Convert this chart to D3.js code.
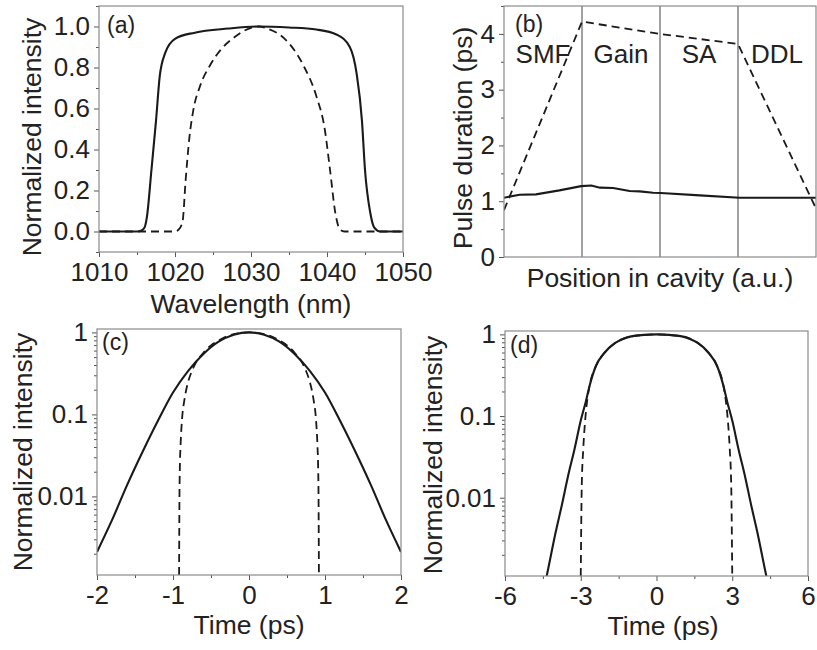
<!DOCTYPE html>
<html>
<head>
<meta charset="utf-8">
<script src="https://cdn.jsdelivr.net/npm/d3@7"></script>
<style>
  html, body { margin: 0; padding: 0; background: #fff; }
  text { font-family: "Liberation Sans", Arial, sans-serif; fill: #222; }
</style>
</head>
<body>
<svg id="chart" width="817" height="650"></svg>
<script>
// ---------- DATA ----------
// (a) spectra
const specSolidWl  = [1010, 1015, 1015.6, 1016.0, 1016.3, 1016.9, 1017.5, 1018.0, 1018.7, 1020.0, 1022.6, 1027, 1031, 1035, 1038.6, 1041.3, 1043.0, 1043.9, 1044.6, 1045.0, 1045.7, 1046.2, 1047, 1050];
const specSolidVal = [0, 0, 0.005, 0.02, 0.07, 0.30, 0.54, 0.76, 0.87, 0.94, 0.97, 0.99, 1.0, 0.995, 0.985, 0.96, 0.90, 0.77, 0.54, 0.30, 0.09, 0.02, 0, 0];
const specDashWl   = [1010, 1020, 1020.5, 1021.0, 1021.4, 1021.9, 1022.4, 1023.3, 1024.6, 1026.1, 1027.9, 1030.1, 1031, 1032.1, 1034.7, 1036.9, 1038.6, 1039.7, 1040.4, 1041.1, 1041.7, 1042.3, 1050];
const specDashVal  = [0, 0, 0.01, 0.05, 0.25, 0.46, 0.59, 0.71, 0.81, 0.89, 0.95, 0.995, 1.0, 0.99, 0.93, 0.81, 0.66, 0.50, 0.30, 0.09, 0.01, 0, 0];
const specXTicks = [1010, 1020, 1030, 1040, 1050];
const specYTicks = [0, 0.2, 0.4, 0.6, 0.8, 1.0];

// (b) pulse duration along cavity
const cavSections = ["SMF", "Gain", "SA", "DDL"];
const cavDashPos  = [0, 1, 2, 3, 4];
const cavDashVal  = [0.84, 4.22, 4.0, 3.82, 0.87];
const cavSolidPos = [0, 0.20, 0.41, 0.71, 0.99, 1.12, 1.23, 1.40, 1.61, 1.74, 1.91, 2.01, 2.51, 3.02, 4];
const cavSolidVal = [1.063, 1.117, 1.123, 1.194, 1.271, 1.283, 1.243, 1.237, 1.182, 1.176, 1.153, 1.147, 1.105, 1.063, 1.063];
const cavYTicks = [0, 1, 2, 3, 4];

// (c) temporal profile, log scale
const cSolidT   = [-2, -1.8, -1.6, -1.4, -1.2, -1.0, -0.8, -0.6, -0.4, -0.2, 0, 0.2, 0.4, 0.6, 0.8, 1.0, 1.2, 1.4, 1.6, 1.8, 2];
const cSolidVal = [0.0021, 0.0052, 0.014, 0.035, 0.083, 0.185, 0.34, 0.545, 0.77, 0.935, 1.0, 0.935, 0.77, 0.545, 0.34, 0.185, 0.083, 0.035, 0.014, 0.0052, 0.0021];
const cDashT    = [-0.92, -0.915, -0.91, -0.9, -0.88, -0.85, -0.8, -0.75, -0.7, -0.6, -0.5, -0.4, -0.3, -0.2, -0.1, 0, 0.1, 0.2, 0.3, 0.4, 0.5, 0.6, 0.7, 0.75, 0.8, 0.85, 0.88, 0.9, 0.91, 0.915, 0.92];
const cDashVal  = [0.0011, 0.01, 0.022, 0.043, 0.09, 0.15, 0.25, 0.34, 0.425, 0.565, 0.695, 0.795, 0.89, 0.95, 0.988, 1.0, 0.988, 0.95, 0.89, 0.795, 0.695, 0.565, 0.425, 0.34, 0.25, 0.15, 0.09, 0.043, 0.022, 0.01, 0.0011];
const cXTicks = [-2, -1, 0, 1, 2];

// (d) temporal profile, log scale
const dSolidT   = [-4.6, -4.35, -4.0, -3.75, -3.5, -3.25, -3.0, -2.8, -2.65, -2.4, -2.05, -1.65, -1.3, -1.0, -0.5, 0, 0.5, 1.0, 1.3, 1.65, 2.05, 2.4, 2.65, 2.8, 3.0, 3.25, 3.5, 3.75, 4.0, 4.35, 4.6];
const dSolidVal = [0.0005, 0.0011, 0.0037, 0.0081, 0.0186, 0.039, 0.088, 0.15, 0.235, 0.41, 0.60, 0.78, 0.885, 0.945, 0.985, 1.0, 0.985, 0.945, 0.885, 0.78, 0.60, 0.41, 0.235, 0.15, 0.088, 0.039, 0.0186, 0.0081, 0.0037, 0.0011, 0.0005];
const dDashT    = [-3.0, -2.96, -2.9, -2.83, -2.75, -2.65, -2.4, -2.05, -1.65, -1.0, 0, 1.0, 1.65, 2.05, 2.4, 2.65, 2.75, 2.83, 2.9, 2.96, 3.0];
const dDashVal  = [0.0011, 0.014, 0.04, 0.085, 0.15, 0.235, 0.41, 0.60, 0.78, 0.945, 1.0, 0.945, 0.78, 0.60, 0.41, 0.235, 0.15, 0.085, 0.04, 0.014, 0.0011];
const dXTicks = [-6, -3, 0, 3, 6];

const logMajor = [0.01, 0.1, 1];
const logDomain = [0.0011, 1.1];

// ---------- DRAWING ----------
const svg = d3.select("#chart");
const frameColor = "#8a8a8a";
const lineColor = "#1a1a1a";
const FS = 26;
const TFS = 26.5;

function zip(xs, ys) { return xs.map((x, i) => [x, ys[i]]); }

let clipId = 0;
function panel(box) {
  const g = svg.append("g");
  const id = "clip" + (clipId++);
  g.append("clipPath").attr("id", id).append("rect")
    .attr("x", box.l).attr("y", box.t).attr("width", box.r - box.l).attr("height", box.b - box.t);
  const plot = g.append("g").attr("clip-path", `url(#${id})`);
  return { g, plot };
}

function styleAxis(sel) {
  sel.select(".domain").remove();
  sel.selectAll(".tick line").attr("stroke", "#555").attr("stroke-width", 1);
  sel.selectAll(".tick text").style("font-size", FS + "px").attr("fill", "#222");
}

function frame(g, box) {
  g.append("rect").attr("x", box.l).attr("y", box.t)
    .attr("width", box.r - box.l).attr("height", box.b - box.t)
    .attr("fill", "none").attr("stroke", frameColor).attr("stroke-width", 1.2);
}

function drawLine(plot, data, x, y, dashed, curve) {
  plot.append("path").datum(data)
    .attr("fill", "none").attr("stroke", lineColor)
    .attr("stroke-width", dashed ? 1.8 : 2.1)
    .attr("stroke-dasharray", dashed ? "8,5" : null)
    .attr("d", d3.line().x(d => x(d[0])).y(d => y(d[1])).curve(curve || d3.curveMonotoneX));
}

function yTitle(g, text, cx, cy) {
  g.append("text").attr("transform", `translate(${cx},${cy}) rotate(-90)`)
    .attr("text-anchor", "middle").attr("dy", "0.35em").style("font-size", TFS + "px").text(text);
}
function xTitle(g, text, cx, baseline) {
  g.append("text").attr("x", cx).attr("y", baseline).attr("text-anchor", "middle")
    .style("font-size", TFS + "px").text(text);
}
function pLabel(g, text, x, baseline) {
  g.append("text").attr("x", x).attr("y", baseline).style("font-size", "23px").text(text);
}

function logMinor() {
  const out = [];
  [0.001, 0.01, 0.1].forEach(d => { for (let k = 2; k <= 9; k++) { const v = k * d; if (v >= logDomain[0] && v <= logDomain[1]) out.push(v); } });
  return out;
}

// ----- (a) -----
{
  const box = { l: 99, r: 403, t: 6, b: 252 };
  const x = d3.scaleLinear().domain([1010, 1050]).range([box.l, box.r]);
  const y = d3.scaleLinear().domain([-0.1, 1.1]).range([box.b, box.t]);
  const { g, plot } = panel(box);
  g.append("g").attr("transform", `translate(0,${box.b})`)
    .call(d3.axisBottom(x).tickValues(d3.range(1015, 1050, 10)).tickSize(3).tickFormat("")).call(styleAxis);
  g.append("g").attr("transform", `translate(0,${box.b})`)
    .call(d3.axisBottom(x).tickValues(specXTicks).tickSize(5).tickPadding(6).tickFormat(d3.format("d"))).call(styleAxis);
  g.append("g").attr("transform", `translate(${box.l},0)`)
    .call(d3.axisLeft(y).tickValues([-0.1, 0.1, 0.3, 0.5, 0.7, 0.9, 1.1]).tickSize(3).tickFormat("")).call(styleAxis);
  g.append("g").attr("transform", `translate(${box.l},0)`)
    .call(d3.axisLeft(y).tickValues(specYTicks).tickSize(5).tickPadding(4).tickFormat(d3.format(".1f"))).call(styleAxis);
  frame(g, box);
  drawLine(plot, zip(specDashWl, specDashVal), x, y, true);
  drawLine(plot, zip(specSolidWl, specSolidVal), x, y, false);
  pLabel(g, "(a)", 107, 33);
  yTitle(g, "Normalized intensity", 32, 137);
  xTitle(g, "Wavelength (nm)", 251, 313);
}

// ----- (b) -----
{
  const box = { l: 504, r: 816, t: 6, b: 257 };
  const x = d3.scaleLinear().domain([0, 4]).range([box.l, box.r]);
  const y = d3.scaleLinear().domain([0, 4.5]).range([box.b, box.t]);
  const { g, plot } = panel(box);
  g.append("g").attr("transform", `translate(${box.l},0)`)
    .call(d3.axisLeft(y).tickValues([0.5, 1.5, 2.5, 3.5, 4.5]).tickSize(3).tickFormat("")).call(styleAxis);
  g.append("g").attr("transform", `translate(${box.l},0)`)
    .call(d3.axisLeft(y).tickValues(cavYTicks).tickSize(5).tickPadding(4).tickFormat(d3.format("d"))).call(styleAxis);
  frame(g, box);
  [1, 2, 3].forEach(p => {
    plot.append("line").attr("x1", x(p)).attr("x2", x(p)).attr("y1", y(0)).attr("y2", y(4.5))
      .attr("stroke", "#555").attr("stroke-width", 1.1);
  });
  cavSections.forEach((s, i) => {
    g.append("text").attr("x", x(i + 0.5)).attr("y", box.t + 57).attr("text-anchor", "middle")
      .style("font-size", FS + "px").text(s);
  });
  drawLine(plot, zip(cavDashPos, cavDashVal), x, y, true, d3.curveLinear);
  drawLine(plot, zip(cavSolidPos, cavSolidVal), x, y, false, d3.curveLinear);
  pLabel(g, "(b)", 515, 32);
  yTitle(g, "Pulse duration (ps)", 463, 138);
  xTitle(g, "Position in cavity (a.u.)", 660, 287);
}

// ----- (c) & (d) -----
function logPanel(box, xDomain, xTicks, xMinor, solidT, solidV, dashT, dashV, label, labelX, labelY, titleX, titleY, xTitleX, xTitleY) {
  const x = d3.scaleLinear().domain(xDomain).range([box.l, box.r]);
  const y = d3.scaleLog().domain(logDomain).range([box.b, box.t]);
  const { g, plot } = panel(box);
  g.append("g").attr("transform", `translate(0,${box.b})`)
    .call(d3.axisBottom(x).tickValues(xMinor).tickSize(3).tickFormat("")).call(styleAxis);
  g.append("g").attr("transform", `translate(0,${box.b})`)
    .call(d3.axisBottom(x).tickValues(xTicks).tickSize(5).tickPadding(6).tickFormat(d => d3.format("d")(d).replace("−", "-"))).call(styleAxis);
  g.append("g").attr("transform", `translate(${box.l},0)`)
    .call(d3.axisLeft(y).tickValues(logMinor()).tickSize(3).tickFormat("")).call(styleAxis);
  g.append("g").attr("transform", `translate(${box.l},0)`)
    .call(d3.axisLeft(y).tickValues(logMajor).tickSize(5).tickPadding(4).tickFormat(d => String(d))).call(styleAxis);
  frame(g, box);
  drawLine(plot, zip(dashT, dashV), x, y, true);
  drawLine(plot, zip(solidT, solidV), x, y, false);
  pLabel(g, label, labelX, labelY);
  yTitle(g, "Normalized intensity", titleX, titleY);
  xTitle(g, "Time (ps)", xTitleX, xTitleY);
}

logPanel({ l: 97, r: 401, t: 329, b: 575 }, [-2, 2], cXTicks, [-1.5, -0.5, 0.5, 1.5],
  cSolidT, cSolidVal, cDashT, cDashVal, "(c)", 102, 350, 23, 452, 249, 634);
logPanel({ l: 505, r: 808, t: 331, b: 576 }, [-6, 6], dXTicks, [-4.5, -1.5, 1.5, 4.5],
  dSolidT, dSolidVal, dDashT, dDashVal, "(d)", 510, 353, 433, 455, 663, 635);
</script>
</body>
</html>
